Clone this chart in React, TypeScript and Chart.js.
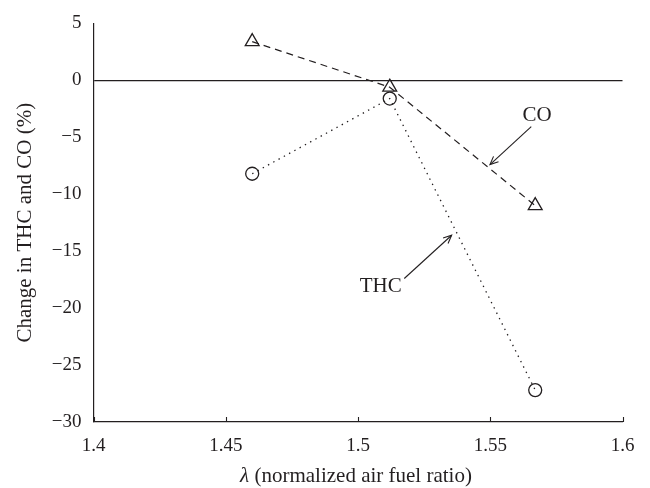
import React, { useEffect, useRef } from "react";
import { Chart, registerables } from "chart.js";

Chart.register(...registerables);

// ---- data ----
const lambdaValues = [1.46, 1.512, 1.567];
const coChange = [3.4, -0.6, -11.0];
const thcChange = [-8.2, -1.6, -27.2];

const xTickValues = [1.4, 1.45, 1.5, 1.55, 1.6];
const xTickLabels = ["1.4", "1.45", "1.5", "1.55", "1.6"];

const annotationLabels = ["CO", "THC"];
const annotationTextX = [1.5677, 1.5086];
const annotationTextY = [-3.1, -18.1];
const arrowTailX = [1.5655, 1.5175];
const arrowTailY = [-4.06, -17.4];
const arrowTipX = [1.5499, 1.5354];
const arrowTipY = [-7.4, -13.6];

const xTitleItalic = "λ";
const xTitleRest = " (normalized air fuel ratio)";
const yTitle = "Change in THC and CO (%)";

const INK = "#231f20";
const SERIF = '"Liberation Serif", "DejaVu Serif", serif';

const overlayPlugin = {
  id: "overlay",
  afterDraw(chart: any) {
    const { ctx, chartArea } = chart;
    const x = chart.scales.x;
    const y = chart.scales.y;
    ctx.save();
    // inward x ticks
    ctx.strokeStyle = INK;
    ctx.lineWidth = 1.1;
    for (const v of xTickValues) {
      const px = Math.round(x.getPixelForValue(v)) + 0.5;
      ctx.beginPath();
      ctx.moveTo(px, chartArea.bottom);
      ctx.lineTo(px, chartArea.bottom - 5);
      ctx.stroke();
    }
    // annotations
    ctx.fillStyle = INK;
    ctx.font = `21px ${SERIF}`;
    ctx.textAlign = "center";
    ctx.textBaseline = "middle";
    for (let i = 0; i < annotationLabels.length; i++) {
      const tx = x.getPixelForValue(annotationTextX[i]);
      const ty = y.getPixelForValue(annotationTextY[i]);
      ctx.fillText(annotationLabels[i], tx, ty);
      const x0 = x.getPixelForValue(arrowTailX[i]);
      const y0 = y.getPixelForValue(arrowTailY[i]);
      const x1 = x.getPixelForValue(arrowTipX[i]);
      const y1 = y.getPixelForValue(arrowTipY[i]);
      ctx.lineWidth = 1.1;
      ctx.beginPath();
      ctx.moveTo(x0, y0);
      ctx.lineTo(x1, y1);
      ctx.stroke();
      const ang = Math.atan2(y1 - y0, x1 - x0);
      const hl = 9;
      const ha = 0.42;
      ctx.beginPath();
      ctx.moveTo(x1 - hl * Math.cos(ang - ha), y1 - hl * Math.sin(ang - ha));
      ctx.lineTo(x1, y1);
      ctx.lineTo(x1 - hl * Math.cos(ang + ha), y1 - hl * Math.sin(ang + ha));
      ctx.stroke();
    }
    // x title with italic lambda
    ctx.textAlign = "left";
    ctx.textBaseline = "middle";
    ctx.font = `italic 21px ${SERIF}`;
    const w1 = ctx.measureText(xTitleItalic).width;
    ctx.font = `21px ${SERIF}`;
    const w2 = ctx.measureText(xTitleRest).width;
    const cx = (chartArea.left + chartArea.right) / 2 - 2;
    const start = cx - (w1 + w2) / 2;
    const ty = 476;
    ctx.font = `italic 21px ${SERIF}`;
    ctx.fillText(xTitleItalic, start, ty);
    ctx.font = `21px ${SERIF}`;
    ctx.fillText(xTitleRest, start + w1, ty);
    ctx.restore();
  },
};

export default function App() {
  const canvasRef = useRef<HTMLCanvasElement | null>(null);

  useEffect(() => {
    const canvas = canvasRef.current;
    if (!canvas) return;
    const coData = lambdaValues.map((v, i) => ({ x: v, y: coChange[i] }));
    const thcData = lambdaValues.map((v, i) => ({ x: v, y: thcChange[i] }));

    const chart = new Chart(canvas, {
      type: "scatter",
      data: {
        datasets: [
          {
            label: "CO",
            data: coData,
            showLine: true,
            borderColor: INK,
            borderWidth: 1.2,
            borderDash: [7, 5],
            pointStyle: "triangle",
            pointRadius: 8,
            pointBorderWidth: 1.3,
            pointBorderColor: INK,
            pointBackgroundColor: "rgba(0,0,0,0)",
          },
          {
            label: "THC",
            data: thcData,
            showLine: true,
            borderColor: INK,
            borderWidth: 1.3,
            borderDash: [1.4, 4.6],
            pointStyle: "circle",
            pointRadius: 6.5,
            pointBorderWidth: 1.3,
            pointBorderColor: INK,
            pointBackgroundColor: "rgba(0,0,0,0)",
          },
        ],
      },
      options: {
        responsive: false,
        animation: false,
        layout: { padding: { left: 0, top: 14, right: 27.5, bottom: 0 } },
        plugins: {
          legend: { display: false },
          tooltip: { enabled: false },
        },
        scales: {
          x: {
            type: "linear",
            min: 1.4,
            max: 1.6,
            afterBuildTicks: (scale: any) => {
              scale.ticks = xTickValues.map((v) => ({ value: v }));
            },
            afterFit: (scale: any) => {
              scale.height = 66;
            },
            ticks: {
              color: INK,
              padding: 13,
              font: { family: SERIF, size: 19 },
              callback: (value: any) => {
                const idx = xTickValues.findIndex((t) => Math.abs(t - Number(value)) < 1e-9);
                return idx >= 0 ? xTickLabels[idx] : "";
              },
            },
            grid: { display: true, drawTicks: false, color: "rgba(0,0,0,0)" },
            border: { display: true, color: INK, width: 1.2 },
          },
          y: {
            type: "linear",
            min: -30,
            max: 5,
            afterFit: (scale: any) => {
              scale.width = 93.5;
            },
            ticks: {
              stepSize: 5,
              color: INK,
              padding: 12,
              font: { family: SERIF, size: 19 },
              callback: (value: any) => {
                const n = Number(value);
                return n < 0 ? "\u2212" + Math.abs(n) : String(n);
              },
            },
            grid: {
              drawTicks: false,
              lineWidth: 1.2,
              color: (c: any) =>
                c.tick && c.tick.value === 0 ? INK : "rgba(0,0,0,0)",
            },
            border: { display: true, color: INK, width: 1.2 },
            title: {
              display: true,
              text: yTitle,
              color: INK,
              font: { family: SERIF, size: 21 },
              padding: { top: 13, bottom: 0 },
            },
          },
        },
      },
      plugins: [overlayPlugin],
    });
    return () => chart.destroy();
  }, []);

  return (
    <div style={{ position: "absolute", left: 0, top: 0, width: 650, height: 488, background: "#fff" }}>
      <canvas ref={canvasRef} width={650} height={488} />
    </div>
  );
}
